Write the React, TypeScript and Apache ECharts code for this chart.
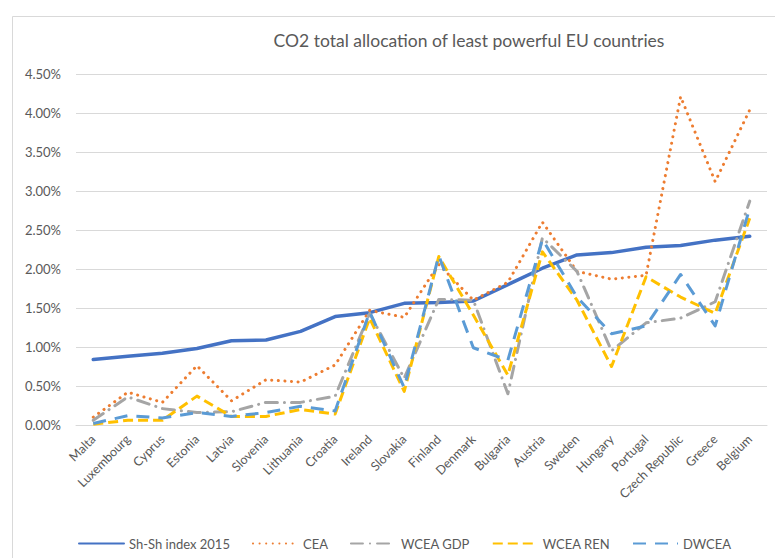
import React, { useEffect, useRef } from "react";
import * as echarts from "echarts";

const categories = ["Malta", "Luxembourg", "Cyprus", "Estonia", "Latvia", "Slovenia", "Lithuania", "Croatia", "Ireland", "Slovakia", "Finland", "Denmark", "Bulgaria", "Austria", "Sweden", "Hungary", "Portugal", "Czech Republic", "Greece", "Belgium"];
const shShIndex2015 = [0.84, 0.88, 0.92, 0.98, 1.08, 1.09, 1.20, 1.39, 1.44, 1.56, 1.57, 1.59, 1.80, 2.01, 2.18, 2.21, 2.28, 2.30, 2.37, 2.42];
const cea = [0.10, 0.42, 0.29, 0.76, 0.31, 0.58, 0.55, 0.77, 1.47, 1.38, 2.06, 1.60, 1.83, 2.60, 1.97, 1.87, 1.92, 4.21, 3.12, 4.04];
const wceaGdp = [0.06, 0.36, 0.21, 0.16, 0.17, 0.29, 0.29, 0.37, 1.43, 0.60, 1.61, 1.60, 0.40, 2.40, 1.97, 0.95, 1.31, 1.37, 1.58, 2.87];
const wceaRen = [0.01, 0.06, 0.06, 0.37, 0.11, 0.11, 0.20, 0.14, 1.37, 0.43, 2.16, 1.41, 0.64, 2.22, 1.60, 0.75, 1.90, 1.64, 1.43, 2.65];
const dwcea = [0.02, 0.12, 0.09, 0.16, 0.11, 0.16, 0.24, 0.18, 1.45, 0.48, 2.17, 0.99, 0.83, 2.38, 1.64, 1.17, 1.27, 1.93, 1.27, 2.78];

const FONT = "Lato, 'Open Sans', sans-serif";

export default function App() {
  const ref = useRef<HTMLDivElement>(null);
  useEffect(() => {
    if (!ref.current) return;
    const chart = echarts.init(ref.current, null, { renderer: "svg" });
    const mk = (name: string, data: number[], color: string, width: number, type: any, cap: any = "butt") => ({
      name,
      type: "line",
      data,
      symbol: "none",
      showSymbol: false,
      lineStyle: { color, width, type, cap, join: "round" },
      itemStyle: { color },
    });
    chart.setOption({
      animation: false,
      backgroundColor: "#ffffff",
      textStyle: { fontFamily: FONT },
      graphic: [
        {
          type: "rect",
          shape: { x: 12.5, y: 16.5, width: 800, height: 600 },
          style: { fill: "none", stroke: "#d9d9d9", lineWidth: 1 },
          silent: true,
        },
        {
          type: "text",
          x: 469,
          y: 40,
          style: {
            text: "CO2 total allocation of least powerful EU countries",
            fill: "#595959",
            font: `17.5px ${FONT}`,
            textAlign: "center",
            textVerticalAlign: "middle",
          },
        },
      ],
      grid: { left: 76, right: 8, top: 74, bottom: 133 },
      legend: {
        left: 73,
        top: 532,
        itemWidth: 45,
        itemHeight: 14,
        itemGap: 22,
        itemStyle: { opacity: 0 },
        textStyle: { color: "#595959", fontSize: 13, fontFamily: FONT },
        data: ["Sh-Sh index 2015", "CEA", "WCEA GDP", "WCEA REN", "DWCEA"],
      },
      xAxis: {
        type: "category",
        data: categories,
        boundaryGap: true,
        axisLine: { lineStyle: { color: "#d9d9d9", width: 1 } },
        axisTick: { show: false },
        axisLabel: { rotate: 45, color: "#595959", fontSize: 12.5, margin: 12, interval: 0, fontFamily: FONT },
      },
      yAxis: {
        type: "value",
        min: 0,
        max: 4.5,
        interval: 0.5,
        axisLine: { show: false },
        axisTick: { show: false },
        splitLine: { lineStyle: { color: "#d9d9d9", width: 1 } },
        axisLabel: {
          color: "#595959",
          fontSize: 13,
          margin: 15,
          fontFamily: FONT,
          formatter: (v: number) => v.toFixed(2) + "%",
        },
      },
      series: [
        mk("Sh-Sh index 2015", shShIndex2015, "#4472C4", 3.5, "solid", "round"),
        mk("CEA", cea, "#ED7D31", 3, [0.1, 6.5], "round"),
        mk("WCEA GDP", wceaGdp, "#A5A5A5", 3, [12, 7, 0.1, 7], "round"),
        mk("WCEA REN", wceaRen, "#FFC000", 3, [10, 5], "butt"),
        mk("DWCEA", dwcea, "#5B9BD5", 3, [13, 9], "butt"),
      ],
    });
    return () => chart.dispose();
  }, []);
  return (
    <div
      ref={ref}
      style={{ position: "fixed", left: 0, top: 0, width: 775, height: 558, background: "#fff" }}
    />
  );
}
